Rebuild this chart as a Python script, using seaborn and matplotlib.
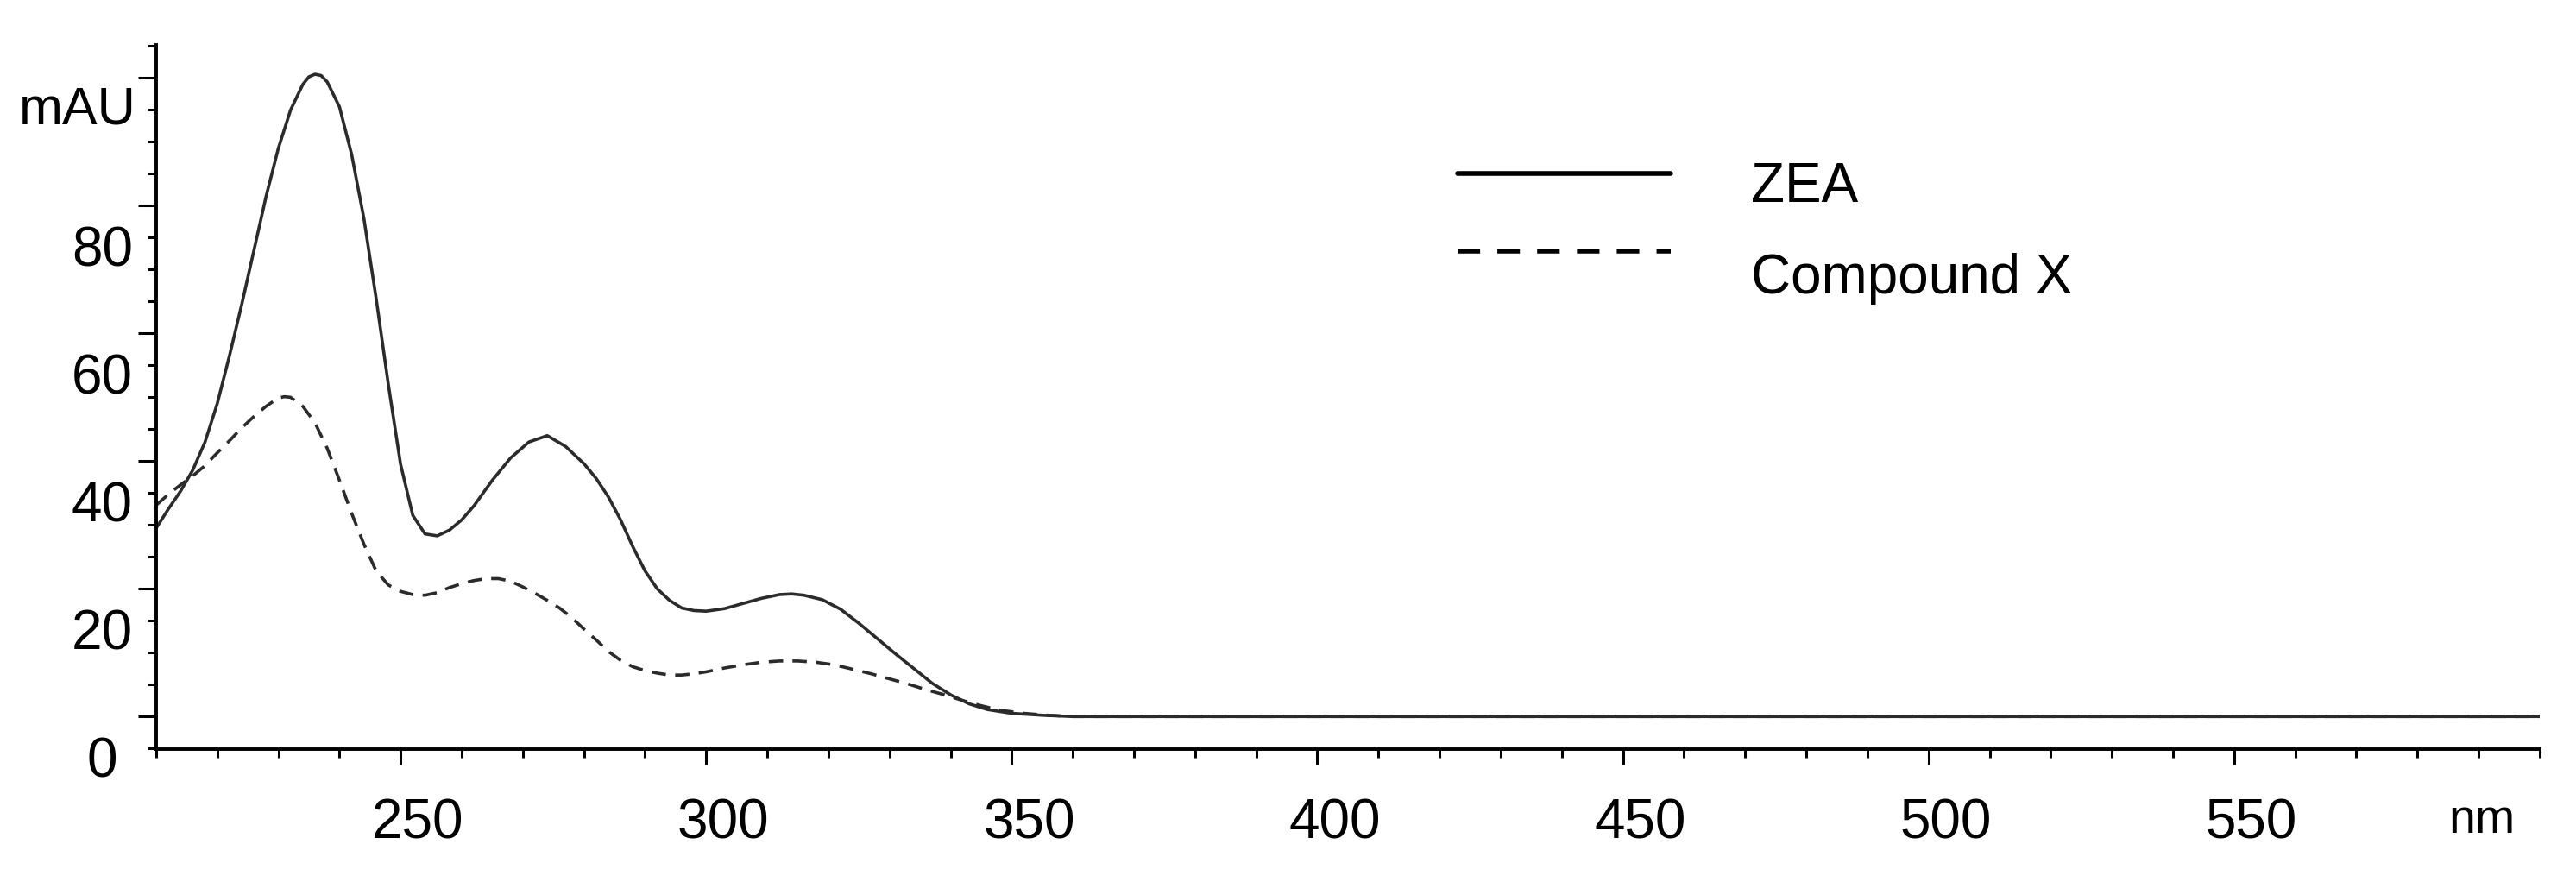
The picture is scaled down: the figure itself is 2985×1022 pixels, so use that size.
import matplotlib
matplotlib.use('Agg')

import matplotlib.pyplot as plt
import matplotlib.transforms as mtransforms
from matplotlib.legend_handler import HandlerLine2D
from matplotlib.lines import Line2D
from matplotlib.ticker import MultipleLocator
import pandas as pd
import seaborn as sns

# ZEA UV spectrum (solid line)
zea_nm = [210, 212, 214, 216, 218, 220, 222, 224, 226, 228, 230, 232, 234, 235, 236,
          237, 238, 240, 242, 244, 246, 248, 250, 252, 254, 256, 258, 260, 262, 265,
          268, 271, 274, 277, 280, 282, 284, 286, 288, 290, 292, 294, 296, 298, 300,
          303, 306, 309, 312, 314, 316, 319, 322, 325, 328, 331, 334, 337, 340, 343,
          346, 350, 355, 360, 400, 450, 500, 550, 600]
zea_mau = [29.5, 32.5, 35.3, 38.6, 43.0, 49.0, 56.5, 64.5, 73.0, 81.5, 89.0, 95.0, 99.0, 100.2, 100.6,
           100.4, 99.4, 95.5, 88.0, 78.0, 65.5, 52.0, 39.5, 31.5, 28.6, 28.3, 29.2, 30.8, 33.0, 37.0,
           40.5, 43.0, 44.0, 42.3, 39.6, 37.3, 34.4, 30.8, 26.6, 22.8, 20.0, 18.2, 17.0, 16.6, 16.5,
           16.9, 17.7, 18.5, 19.1, 19.2, 19.0, 18.3, 16.8, 14.6, 12.2, 9.8, 7.5, 5.2, 3.4, 2.0,
           1.1, 0.5, 0.2, 0.0, 0.0, 0.0, 0.0, 0.0, 0.0]

# Compound X UV spectrum (dashed line)
cpx_nm = [210, 212, 214, 216, 218, 220, 222, 224, 226, 228, 230, 231, 232, 234, 236,
          238, 240, 242, 244, 246, 248, 250, 252, 254, 256, 258, 260, 262, 264, 266,
          268, 270, 272, 274, 276, 278, 280, 282, 284, 286, 288, 290, 292, 294, 296,
          298, 300, 303, 306, 309, 312, 315, 318, 321, 324, 327, 330, 333, 336, 339,
          342, 345, 348, 352, 356, 360, 400, 450, 500, 550, 600]
cpx_mau = [33.1, 34.8, 36.3, 37.7, 39.3, 41.3, 43.2, 45.2, 47.0, 48.6, 49.9, 50.1, 50.0, 48.6, 46.0,
           42.0, 37.0, 31.8, 27.0, 22.8, 20.6, 19.6, 19.1, 19.0, 19.4, 20.2, 20.8, 21.3, 21.6, 21.6,
           21.2, 20.3, 19.3, 18.2, 17.0, 15.5, 13.7, 12.0, 10.2, 8.8, 7.8, 7.2, 6.8, 6.5, 6.5,
           6.7, 7.0, 7.6, 8.1, 8.5, 8.7, 8.7, 8.5, 8.1, 7.4, 6.7, 5.9, 5.1, 4.2, 3.4,
           2.5, 1.7, 1.0, 0.5, 0.2, 0.0, 0.0, 0.0, 0.0, 0.0, 0.0]

series_names = ["ZEA", "Compound X"]
x_ticks = [250, 300, 350, 400, 450, 500, 550]
y_ticks = [0, 20, 40, 60, 80, 100]
y_tick_labels = ["0", "20", "40", "60", "80", ""]

df = pd.concat([
    pd.DataFrame({"nm": zea_nm, "mAU": zea_mau, "compound": series_names[0]}),
    pd.DataFrame({"nm": cpx_nm, "mAU": cpx_mau, "compound": series_names[1]}),
], ignore_index=True)

sns.set_style("ticks")
plt.rcParams['font.family'] = ['Liberation Sans', 'DejaVu Sans']
plt.rcParams['text.color'] = 'black'
plt.rcParams['xtick.color'] = 'black'
plt.rcParams['ytick.color'] = 'black'

INK = "#2b2b2b"


class ShiftedLine(HandlerLine2D):
    # legend line drawn a bit higher than the centre of its label
    def __init__(self, dy, **kw):
        super().__init__(**kw)
        self.dy = dy

    def create_artists(self, legend, orig_handle, xdescent, ydescent,
                       width, height, fontsize, trans):
        artists = super().create_artists(legend, orig_handle, xdescent, ydescent,
                                         width, height, fontsize, trans)
        for a in artists:
            a.set_ydata([y + self.dy for y in a.get_ydata()])
        return artists


fig = plt.figure(figsize=(29.85, 10.22), dpi=100)
ax = fig.add_axes([0.0606, 0.1507, 0.9253, 0.7984])

line_dashes = {series_names[0]: "", series_names[1]: (4.6, 3.0)}
sns.lineplot(data=df, x="nm", y="mAU", style="compound", dashes=line_dashes,
             color=INK, linewidth=2.6, sort=False, estimator=None,
             legend=False, ax=ax)

ax.set_xlim(210, 600)
ax.set_ylim(-5.1, 105.2)
ax.set_xlabel("")
ax.set_ylabel("")

for side in ["top", "right"]:
    ax.spines[side].set_visible(False)
for side in ["left", "bottom"]:
    ax.spines[side].set_linewidth(2.8)
    ax.spines[side].set_color("black")

ax.set_xticks(x_ticks)
ax.set_xticklabels([str(v) for v in x_ticks])
ax.xaxis.set_minor_locator(MultipleLocator(10))
ax.set_yticks(y_ticks)
ax.set_yticklabels(y_tick_labels)
ax.yaxis.set_minor_locator(MultipleLocator(5))

ax.tick_params(axis="x", which="major", direction="out", length=13, width=2.2,
               labelsize=46, pad=28, bottom=True)
ax.tick_params(axis="x", which="minor", direction="out", length=7, width=2.2, bottom=True)
ax.tick_params(axis="y", which="major", direction="out", length=15, width=2.2,
               labelsize=46, pad=30, left=True)
ax.tick_params(axis="y", which="minor", direction="out", length=7, width=2.2, left=True)

# tick labels sit a little off their ticks in the original print-out
x_shift = mtransforms.ScaledTranslation(0.20, 0, fig.dpi_scale_trans)
for lab in ax.get_xticklabels():
    lab.set_transform(lab.get_transform() + x_shift)
y_shift = mtransforms.ScaledTranslation(0, -0.47, fig.dpi_scale_trans)
for lab in ax.get_yticklabels():
    lab.set_horizontalalignment("center")
    lab.set_transform(lab.get_transform() + y_shift)

# axis unit labels
ax.text(-0.0329, 92.8, "mAU", transform=ax.get_yaxis_transform(),
        ha="center", va="baseline", fontsize=44, color="black")
ax.text(590.6, -0.119, "nm", transform=ax.get_xaxis_transform(),
        ha="center", va="baseline", fontsize=40, color="black")

handles = [Line2D([], [], color="black", linewidth=4, linestyle="-"),
           Line2D([], [], color="black", linewidth=4, dashes=(4.7, 3.6))]
ax.legend(handles, series_names, loc="upper left",
          bbox_to_anchor=(0.5658, 0.817), bbox_transform=fig.transFigure,
          frameon=False, fontsize=46, borderpad=0, borderaxespad=0,
          handlelength=3.86, handletextpad=1.46, labelspacing=0.72,
          handler_map={handles[0]: ShiftedLine(8), handles[1]: ShiftedLine(19)})

fig.savefig("out.png", dpi=100)
plt.close(fig)
